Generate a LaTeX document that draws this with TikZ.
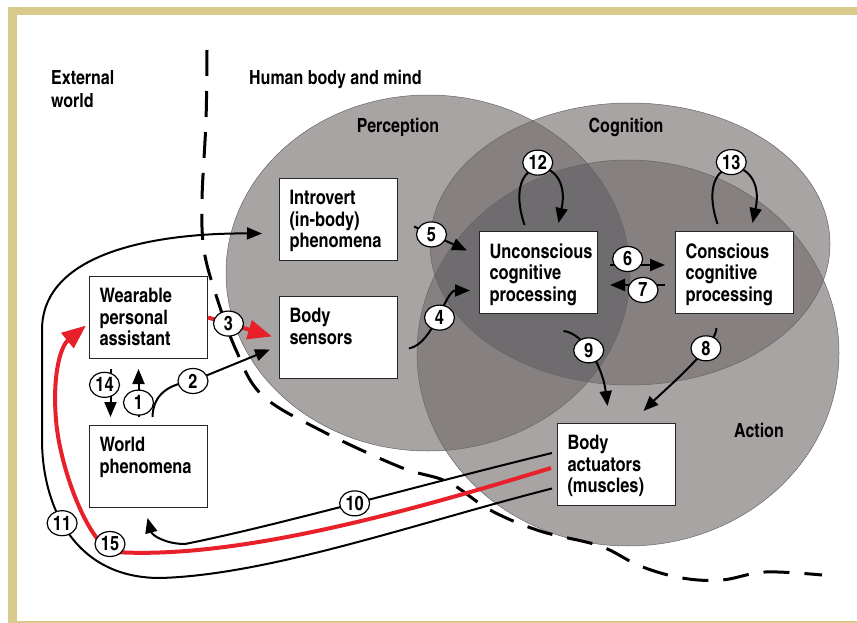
\documentclass[tikz,border=0pt]{standalone}
\usepackage{fontspec}
\setmainfont{texgyreheroscn}[
  Extension=.otf,
  UprightFont=*-regular,
  BoldFont=*-bold,
  ItalicFont=*-italic,
  BoldItalicFont=*-bolditalic]
\usetikzlibrary{
  arrows.meta,
  positioning,
  calc,
  shapes.geometric
}
\definecolor{frametan}{RGB}{217,201,138}
\definecolor{lonegray}{RGB}{168,164,163}
\definecolor{twogray}{RGB}{134,129,128}
\definecolor{threegray}{RGB}{110,108,111}
\definecolor{alertred}{RGB}{232,32,42}
\newcommand{\boxtext}[1]{\parbox[t][58pt][t]{98pt}{\raggedright #1}}

\begin{document}
\begin{tikzpicture}[
  x=1pt, y=-1pt,
  box/.style={draw=black!85, line width=1pt, fill=white, anchor=north west,
    inner xsep=10pt, inner ysep=12pt, minimum width=118pt, minimum height=82pt,
    font=\fontsize{20}{21.5}\selectfont\bfseries},
  num/.style={ellipse, draw=black, text=black, line width=1.2pt, fill=white, inner sep=0pt,
    minimum width=30pt, minimum height=25pt, font=\fontsize{20}{20}\selectfont\bfseries},
  tag/.style={inner sep=0pt, font=\fontsize{19.5}{23}\selectfont\bfseries},
  rim/.style={draw=black!60, line width=0.5pt},
  arr/.style={-{Triangle[length=15pt, width=12pt]}, line width=2pt},
  redarr/.style={-{Triangle[length=24pt, width=19pt]}, line width=4pt, alertred}
]
\useasboundingbox (0,0) rectangle (857,623);

% frame
\fill[frametan] (8,7) rectangle (857,15);
\fill[frametan] (8,7) rectangle (17,622);
\fill[frametan] (8,621) rectangle (857,623);

% Perception / Cognition / Action
\fill[lonegray] (428,273) ellipse [x radius=202pt, y radius=178pt];
\fill[lonegray] (630,244) ellipse [x radius=200pt, y radius=141pt];
\fill[lonegray] (628,353) ellipse [x radius=211pt, y radius=193pt];
\begin{scope}
  \clip (428,273) ellipse [x radius=202pt, y radius=178pt];
  \fill[twogray] (630,244) ellipse [x radius=200pt, y radius=141pt];
  \fill[twogray] (628,353) ellipse [x radius=211pt, y radius=193pt];
\end{scope}
\begin{scope}
  \clip (630,244) ellipse [x radius=200pt, y radius=141pt];
  \fill[twogray] (628,353) ellipse [x radius=211pt, y radius=193pt];
\end{scope}
\begin{scope}
  \clip (428,273) ellipse [x radius=202pt, y radius=178pt];
  \clip (630,244) ellipse [x radius=200pt, y radius=141pt];
  \fill[threegray] (628,353) ellipse [x radius=211pt, y radius=193pt];
\end{scope}
\draw[rim] (428,273) ellipse [x radius=202pt, y radius=178pt];
\draw[rim] (630,244) ellipse [x radius=200pt, y radius=141pt];
\draw[rim] (628,353) ellipse [x radius=211pt, y radius=193pt];

% body boundary
\draw[line width=3pt, dash pattern=on 26pt off 15pt]
  plot[smooth, tension=0.6] coordinates {(207,50) (206,120) (202,200) (204,250)
  (216,295) (236,350) (262,395) (320,430) (400,467) (448,482) (490,510)
  (540,531) (600,546) (640,566) (682,578) (722,580) (765,572) (822,575)};

% headings
\node[tag, anchor=north west, align=left] (ext) at (51,70) {External\\world};
\node[tag, anchor=north west] (hum) at (249,70) {Human body and mind};
\node[tag, anchor=base] (perc) at (398,133) {Perception};
\node[tag, anchor=base] (cogn) at (626,133) {Cognition};
\node[tag, anchor=base] (actn) at (759,437) {Action};

% boxes
\node[box] (intro) at (279,178) {\boxtext{Introvert\\(in-body)\\phenomena}};
\node[box] (sens) at (279,296) {\boxtext{Body\\sensors}};
\node[box] (unc) at (479,231) {\boxtext{Unconscious\\cognitive\\processing}};
\node[box] (con) at (675,231) {\boxtext{Conscious\\cognitive\\processing}};
\node[box] (act) at (557,423) {\boxtext{Body\\actuators\\(muscles)}};
\node[box] (wear) at (89,276) {\boxtext{Wearable\\personal\\assistant}};
\node[box] (world) at (89,425) {\boxtext{World\\phenomena}};

% outer loops
\draw[arr] ([shift={(-5,24)}]act.west) .. controls (420,522) and (270,575) .. (160,578)
  .. controls (70,578) and (42,500) .. (42,440) node[num, pos=0.55] {11}
  -- (42,330) .. controls (42,250) and (162,233) .. ([shift={(-17,14)}]intro.west);
\draw[redarr] ([shift={(-6,3.5)}]act.west) .. controls (420,508) and (240,560) .. (115,552)
  node[num, pos=1, xshift=-5pt, yshift=8pt] {15}
  .. controls (90,548) and (60,470) .. (56,420)
  .. controls (52,370) and (62,345) .. ([shift={(-3,8)}]wear.west);
\draw[arr] ([shift={(-5,-11.5)}]act.west) .. controls (420,485) and (280,525) .. (185,544)
  node[num, pos=0.5] {10}
  .. controls (165,544) and (152,535) .. ([shift={(-1,10)}]world.south);

% external world
\draw[arr] ([shift={(-10,-8)}]world.north) -- node[num, pos=0.3] {1} ([shift={(-10,10)}]wear.south);
\draw[arr] ([shift={(-38,10)}]wear.south) -- node[num, pos=0.33, xshift=-6pt] {14} ([shift={(-38,-8)}]world.north);
\draw[arr] ([shift={(4,-8)}]world.north) .. controls (153,395) and (168,384) .. (193,381) node[num] {2}
  -- ([shift={(-9,12)}]sens.west);
\draw[redarr] (wear.east) -- node[num, pos=0.32] {3} ([shift={(-7,-1)}]sens.west);

% perception to cognition
\draw[arr] ([shift={(11,11)}]sens.east) .. controls +(25,-5) and +(-25,0) .. ([shift={(-9,18)}]unc.west)
  node[num, pos=0.5] {4};
\draw[arr] ([shift={(16,7)}]intro.east) -- node[num, pos=0.33] {5} ([shift={(-12,-22)}]unc.west);
\draw[arr] ([shift={(12,-7.5)}]unc.east) -- node[num, pos=0.32, yshift=6pt] {6} ([shift={(-10,-7.5)}]con.west);
\draw[arr] ([shift={(-10,12.5)}]con.west) -- node[num, pos=0.4, yshift=-5pt] {7} ([shift={(12,12.5)}]unc.east);

% cognition to action
\draw[arr] ([shift={(-18,14)}]con.south) .. controls +(0,18) and +(20,-20) .. ([shift={(27,-12)}]act.north)
  node[num, pos=0.28] {8};
\draw[arr] ([shift={(25,17)}]unc.south) .. controls +(20,2) and +(-5,-40) .. ([shift={(-9,-17)}]act.north)
  node[num, pos=0.45] {9};

% self loops
\draw[arr] ([shift={(-14,-6)}]unc.north) .. controls +(-25,-75) and +(15,-70) .. ([shift={(20,-8)}]unc.north)
  node[num, pos=0.5, yshift=7pt] {12};
\draw[arr] ([shift={(-17,-7)}]con.north) .. controls +(-25,-75) and +(15,-70) .. ([shift={(18,-8)}]con.north)
  node[num, pos=0.5, yshift=7pt] {13};

\end{tikzpicture}
\end{document}
